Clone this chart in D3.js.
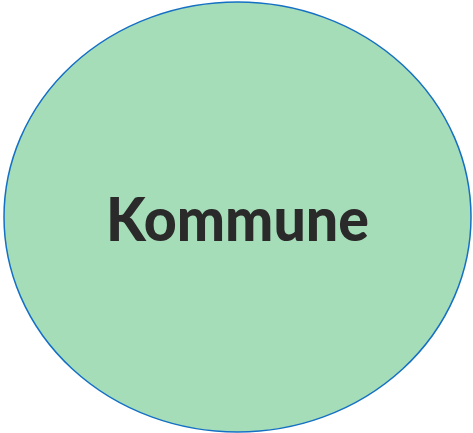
<!DOCTYPE html>
<html>
<head>
<meta charset="utf-8">
<script src="https://cdn.jsdelivr.net/npm/d3@7"></script>
<style>
  html, body { margin: 0; padding: 0; background: #ffffff; }
  svg { display: block; }
</style>
</head>
<body>
<div id="chart"></div>
<script>
// Single node of the diagram
const labels = ['Kommune'];
const nodeX = [0.5];
const nodeY = [0.5];

const width = 473, height = 433;

const svg = d3.select('#chart')
    .append('svg')
    .attr('width', width)
    .attr('height', height);

// Scales map the unit node position into the pixel area of the ellipse
const xScale = d3.scaleLinear().domain([0, 1]).range([4, 471]);
const yScale = d3.scaleLinear().domain([0, 1]).range([2, 432]);

const nodes = labels.map((label, i) => ({ label, x: nodeX[i], y: nodeY[i] }));

const g = svg.selectAll('.node')
    .data(nodes)
    .join('g')
    .attr('class', 'node');

g.append('ellipse')
    .attr('cx', d => xScale(d.x))
    .attr('cy', d => yScale(d.y))
    .attr('rx', (xScale(1) - xScale(0)) / 2)
    .attr('ry', (yScale(1) - yScale(0)) / 2)
    .attr('fill', '#a6ddb9')
    .attr('stroke', '#1570c4')
    .attr('stroke-width', 1.5);

g.append('text')
    .attr('x', d => xScale(d.x))
    .attr('y', 241)
    .attr('text-anchor', 'middle')
    .attr('textLength', 263)
    .attr('lengthAdjust', 'spacingAndGlyphs')
    .style('font-family', 'Lato, sans-serif')
    .style('font-weight', 900)
    .style('font-size', '61px')
    .attr('fill', '#2a2a2a')
    .text(d => d.label);
</script>
</body>
</html>
